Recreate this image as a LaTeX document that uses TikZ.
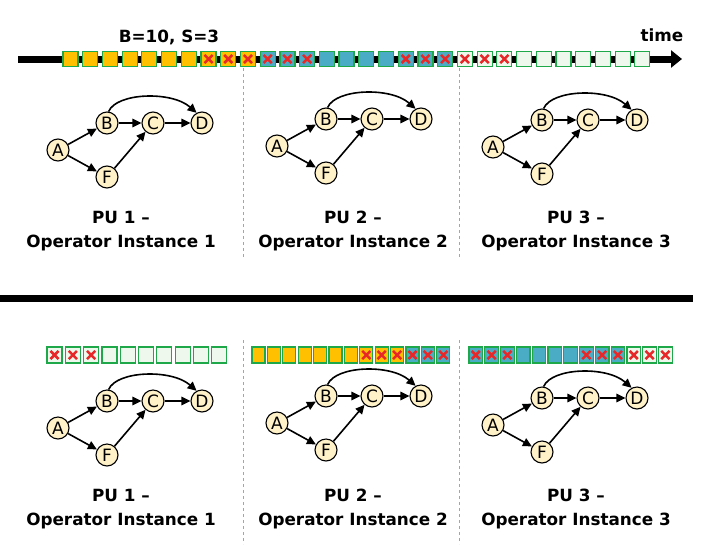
\documentclass[tikz,border=0pt]{standalone}
\usepackage{fontspec}
\setmainfont{DejaVu Sans}
\usetikzlibrary{arrows.meta}
\definecolor{sqorange}{RGB}{255,192,0}
\definecolor{sqblue}{RGB}{75,172,198}
\definecolor{sqlight}{RGB}{238,248,236}
\definecolor{sqgreen}{RGB}{30,168,74}
\definecolor{xred}{RGB}{232,40,40}
\definecolor{nodefill}{RGB}{255,242,200}
\definecolor{sepgray}{RGB}{165,165,165}
\newcommand\mygraph[3]{%
  \begin{scope}[shift={(#2,#3)}]
    \node[gn] (#1A) at (0,0) {A};
    \node[gn] (#1B) at (49,-27) {B};
    \node[gn] (#1C) at (95,-27) {C};
    \node[gn] (#1D) at (144,-27) {D};
    \node[gn] (#1F) at (49,27) {F};
  \end{scope}
  \draw[ed] (#1A) -- (#1B);
  \draw[ed] (#1A) -- (#1F);
  \draw[ed] (#1B) -- (#1C);
  \draw[ed] (#1C) -- (#1D);
  \draw[ed] (#1F) -- (#1C);
  \draw[ed] (#1B.82) .. controls +(8,-19) and +(-25,-22) .. (#1D.118);
}
\newcommand\sqrow[7]{% #1 prefix, #2 left, #3 pitch, #4 width, #5 height, #6 y, #7 list
  \foreach \t [count=\i from 0] in {#7} {
    \node[sq, sq-\t, minimum width=#4pt, minimum height=#5pt] (#1\i) at ({#2+#4/2+\i*#3}, #6) {};
  }
}
\begin{document}
\begin{tikzpicture}[x=1pt,y=-1pt,
  gn/.style={circle, draw, fill=nodefill, minimum size=22pt, inner sep=0pt, line width=1.1pt,
    font=\fontsize{17}{17}\selectfont},
  ed/.style={line width=1.6pt, -{Triangle[length=9pt,width=8.5pt]}},
  lab/.style={font=\fontsize{16.8}{20}\selectfont\bfseries, inner sep=0pt, anchor=base},
  sq/.style={draw=sqgreen, line width=1.2pt, inner sep=0pt},
  xmark/.style={path picture={\draw[xred, line width=2.5pt]
     ([shift={(-4.1pt,-4.1pt)}]path picture bounding box.center) -- ([shift={(4.1pt,4.1pt)}]path picture bounding box.center)
     ([shift={(-4.1pt,4.1pt)}]path picture bounding box.center) -- ([shift={(4.1pt,-4.1pt)}]path picture bounding box.center);}},
  sq-o/.style={fill=sqorange},
  sq-O/.style={fill=sqorange, xmark},
  sq-b/.style={fill=sqblue},
  sq-B/.style={fill=sqblue, xmark},
  sq-w/.style={fill=sqlight},
  sq-W/.style={fill=sqlight, xmark},
  sep/.style={draw=sepgray, line width=0.8pt, dash pattern=on 3pt off 3pt}
]
\useasboundingbox (0,0) rectangle (711,544);
% time axis
\coordinate (tstart) at (18,59);
\coordinate (tend) at (682,59);
\draw[line width=7pt, -{Triangle[length=11pt 0,width=17pt 0]}] (tstart) -- (tend);
\node[lab] (bs) at (169,42) {B=10, S=3};
\node[lab] (time) at (662,41) {time};
\sqrow{t}{63}{19.72}{15}{15}{59}{o,o,o,o,o,o,o,O,O,O,B,B,B,b,b,b,b,B,B,B,W,W,W,w,w,w,w,w,w,w}
% separators top
\draw[sep] (243,68) -- (243,258);
\draw[sep] (459,68) -- (459,258);
% graphs top
\mygraph{ga}{58}{150}
\mygraph{gb}{277}{146}
\mygraph{gc}{493}{147}
\node[lab] (pu1) at (121,223) {PU 1 –};
\node[lab] (oi1) at (121,247) {Operator Instance 1};
\node[lab] (pu2) at (353,223) {PU 2 –};
\node[lab] (oi2) at (353,247) {Operator Instance 2};
\node[lab] (pu3) at (576,223) {PU 3 –};
\node[lab] (oi3) at (576,247) {Operator Instance 3};
% divider
\draw[line width=7pt] (0,298) -- (693,298);
% bottom
\draw[sep] (243,340) -- (243,544);
\draw[sep] (459,340) -- (459,544);
\sqrow{p}{47}{18.3}{15}{16}{355}{W,W,W,w,w,w,w,w,w,w}
\sqrow{q}{252}{15.4}{13}{16}{355}{o,o,o,o,o,o,o,O,O,O,B,B,B}
\sqrow{r}{469}{15.8}{13.5}{16}{355}{B,B,B,b,b,b,b,B,B,B,W,W,W}
\mygraph{gd}{58}{428}
\mygraph{ge}{277}{423}
\mygraph{gf}{493}{425}
\node[lab] (pu4) at (121,501) {PU 1 –};
\node[lab] (oi4) at (121,525) {Operator Instance 1};
\node[lab] (pu5) at (353,501) {PU 2 –};
\node[lab] (oi5) at (353,525) {Operator Instance 2};
\node[lab] (pu6) at (576,501) {PU 3 –};
\node[lab] (oi6) at (576,525) {Operator Instance 3};
\end{tikzpicture}
\end{document}
